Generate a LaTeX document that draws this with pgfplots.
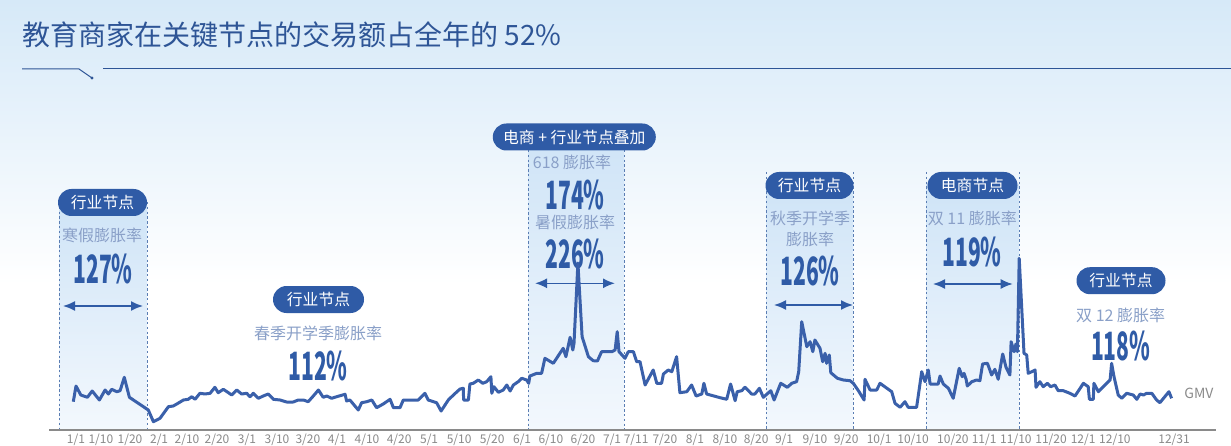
\documentclass[border=0pt]{standalone}
\usepackage{pgfplots}
\pgfplotsset{compat=1.18}
\usepackage{pgfplotstable}
\usepackage{graphicx}
\usepackage{fontspec}
\setmainfont{Noto Sans CJK SC}
\usetikzlibrary{arrows.meta}
\definecolor{linec}{HTML}{3A60AA}
\definecolor{pillc}{HTML}{2F5BA6}
\definecolor{subc}{HTML}{8AA0C8}
\definecolor{titlec}{HTML}{2E5596}
\definecolor{dashc}{HTML}{5A7DB3}
\definecolor{bgtop}{HTML}{D6E9F8}
\definecolor{bandtop}{HTML}{CFE4F7}
\definecolor{bandbot}{HTML}{F3F8FD}
\definecolor{tickc}{HTML}{8A8A8A}
\newcommand{\bn}[1]{\scalebox{0.54}[1]{\fontsize{19.5}{19.5}\selectfont\bfseries #1}}
\pgfplotstableread{
day gmv
1.1 28.3
2.0 44
3.6 35
5.8 32.7
7.4 39
9.8 30
11.7 40
12.8 36
13.9 40.7
15.6 38.3
16.7 39.3
18.1 52.7
19.8 32.7
26.1 20
27.8 8.3
30.0 11.7
32.8 23.3
34.4 24
35.6 26
37.8 30
39.4 30.7
40.6 33.3
41.7 30.7
43.3 36.7
45.0 36
46.7 36.7
48.3 42.7
49.4 37.3
51.1 40.7
52.8 37.3
53.9 35
55.6 40
57.2 36
58.9 36.7
60.0 33.3
61.1 36.7
62.8 31.7
64.4 34
66.1 36
67.8 30.7
70.0 30
72.2 28
74.4 28
76.1 30
77.8 30
79.4 28.3
81.1 34
82.8 40
84.4 32.7
85.6 34
87.2 31.7
88.9 33.3
91.7 35.7
92.2 29
93.3 30
96.1 20
97.2 27.3
98.9 28.3
100.6 30
102.2 22.3
104.4 26
106.7 30.7
107.8 22.3
110.0 22.3
111.1 30
116.1 30
118.3 36.7
119.4 30
122.2 27.3
123.7 19
126.1 30
127.8 35
130.0 41
131.1 41.7
131.2 30
132.8 30
133.3 46
134.4 46.7
136.1 50
137.6 46.7
138.9 48.3
140.3 53.3
140.6 36.7
141.3 43.3
142.8 37.7
144.4 40
145.6 45
146.7 39
147.8 45
149.4 48.3
150.6 51.7
152.2 50
152.9 46.7
153.3 54
155.6 56.7
157.2 56.7
158.3 71.7
161.1 66.7
164.4 81.7
165.3 73.3
166.7 92.7
167.6 80
168.0 86.7
169.3 167
170.7 93.3
172.8 73.3
174.4 69.3
175.8 69
177.2 78.3
180.6 78.3
181.7 80
182.4 98.3
183.0 78.3
185.0 71.7
186.1 78.3
187.8 78.3
188.9 68.3
190.0 68.3
191.7 45
194.4 60
195.6 46.7
197.2 46.7
197.8 56
199.4 60
200.6 58.3
202.2 73.3
203.3 37.3
205.6 38.3
207.2 45
208.7 34
210.6 36
211.3 46.7
212.2 36
216.7 32.3
218.9 30.7
220.2 46
221.7 29.3
222.4 38.3
223.9 39.3
225.0 42.7
227.2 36
228.3 36
229.8 41.7
231.1 32.7
233.6 39.3
234.7 30
236.9 46.7
239.1 42.7
240.6 46.7
242.2 48.3
242.9 58.3
243.9 108.3
245.6 83.3
246.7 88.3
247.6 78.3
248.3 90
250.0 81.7
250.9 68.3
251.7 76.7
252.2 66.7
253.1 75
253.6 57.3
255.8 51.7
257.8 50
260.0 49.3
261.1 46.7
262.8 39.3
264.7 30
265.0 50.7
266.7 40
268.9 40
270.0 46.7
273.9 38.3
275.0 26.7
276.7 22.7
278.3 28.3
279.4 22.7
282.2 22.7
283.9 58.3
285.0 48.3
286.1 60
286.7 46
289.4 46
290.0 54
291.1 46
292.8 41.7
294.4 31.7
296.4 61.7
297.4 53.3
298.0 56.7
298.7 50.7
299.1 44
300.6 48.3
302.2 50
303.3 49.3
304.2 66
305.8 66.7
306.7 59.3
307.2 55
308.3 60.7
309.4 50.7
310.9 76
312.0 62.7
313.3 55
313.7 88.3
314.7 78.3
315.3 86
315.8 78.3
316.4 171.7
318.0 76.7
318.9 75
319.4 56.7
320.6 58.3
321.7 60
322.0 42.7
323.3 48.3
324.4 43.3
325.8 46.7
326.9 43.3
328.3 45
329.4 39.3
331.1 39.3
333.3 36.7
335.0 34
337.8 46.7
339.4 43.3
339.8 30.7
341.1 30.7
341.3 46.7
342.8 38.3
346.7 50
347.2 66.7
348.0 53.3
349.4 35
350.6 31.7
352.2 36.7
354.4 35
355.6 30.7
356.7 36
357.8 35
358.9 36.7
360.6 36.7
362.2 30
363.3 27.3
366.3 38.3
367.2 31.7
}\gmvdata
\begin{document}
\begin{tikzpicture}
\useasboundingbox (0,0) rectangle (615.5pt,222.5pt);
% background and bands (unflipped pixel scope)
\begin{scope}[x=0.5pt,y=0.5pt]
\fill[white] (0,0) rectangle (1231,445);
\shade[top color=bgtop, bottom color=white] (0,160) rectangle (1231,445);
\shade[top color=bandtop, bottom color=bandbot] (59,15) rectangle (147,243);
\shade[top color=bandtop, bottom color=bandbot] (528,15) rectangle (624,308);
\shade[top color=bandtop, bottom color=bandbot] (766,15) rectangle (853,260);
\shade[top color=bandtop, bottom color=bandbot] (926,15) rectangle (1019,260);
\end{scope}
% annotations (flipped pixel scope: y downward)
\begin{scope}[shift={(0pt,222.5pt)},x=0.5pt,y=-0.5pt]
\node[anchor=west, text=titlec, font=\fontsize{14}{16}\selectfont, inner sep=0pt] at (22,35) {教育商家在关键节点的交易额占全年的 52\%};
\draw[titlec, line width=0.5pt] (22,69) -- (79,69) -- (92,78);
\fill[titlec] (92,78) circle (1.6);
\draw[titlec, line width=0.5pt] (103,69) -- (1231,69);
% dashed band edges
\tikzset{edge/.style={dashc, line width=0.45pt, dash pattern=on 1.2pt off 1.2pt}}
\draw[edge] (59,202) -- (59,430) (147,202) -- (147,430);
\draw[edge] (528,150) -- (528,430) (624,150) -- (624,430);
\draw[edge] (766,172) -- (766,430) (853,172) -- (853,430);
\draw[edge] (926,172) -- (926,430) (1019,172) -- (1019,430);
% pills
\tikzset{pill/.style={fill=pillc, text=white, rounded corners=6.75pt, minimum height=13.5pt, inner sep=0pt, font=\fontsize{7.9}{9}\selectfont}}
\node[pill, minimum width=44.5pt] at (102.5,202.5) {行业节点};
\node[pill, minimum width=81.5pt] at (574.3,137) {电商 + 行业节点叠加};
\node[pill, minimum width=44pt] at (809.5,185.5) {行业节点};
\node[pill, minimum width=45pt] at (972.5,185.5) {电商节点};
\node[pill, minimum width=45.5pt] at (318.5,299.5) {行业节点};
\node[pill, minimum width=44.5pt] at (1121,280.7) {行业节点};
% sub labels
\tikzset{sub/.style={text=subc, inner sep=0pt, font=\fontsize{8}{9}\selectfont}}
\tikzset{num/.style={text=pillc, inner sep=0pt}}
\node[sub] at (102,235) {寒假膨胀率};
\node[num] at (103,269) {\bn{127\%}};
\node[sub] at (572,162) {618 膨胀率};
\node[num] at (575,194.5) {\bn{174\%}};
\node[sub] at (575,222) {暑假膨胀率};
\node[num] at (575,254) {\bn{226\%}};
\node[sub] at (810,218.3) {秋季开学季};
\node[sub] at (810,239.3) {膨胀率};
\node[num] at (810,271) {\bn{126\%}};
\node[sub] at (972.3,218.3) {双 11 膨胀率};
\node[num] at (972,251.7) {\bn{119\%}};
\node[sub] at (318,333) {春季开学季膨胀率};
\node[num] at (318,366) {\bn{112\%}};
\node[sub] at (1120.7,315) {双 12 膨胀率};
\node[num] at (1120.7,346) {\bn{118\%}};
\node[anchor=west, text=tickc, inner sep=0pt, font=\fontsize{7}{8}\selectfont] at (1184,393) {GMV};
% arrows
\tikzset{dbl/.style={pillc, line width=0.8pt, {Latex[length=6pt,width=5pt]}-{Latex[length=6pt,width=5pt]}}}
\draw[dbl] (63,306) -- (143,306);
\draw[dbl] (535,283.3) -- (615,283.3);
\draw[dbl] (774,305) -- (853,305);
\draw[dbl] (933,284) -- (1012.7,284);
\end{scope}
\begin{axis}[
  at={(24.5pt,7.5pt)}, anchor=south west,
  scale only axis, width=583.5pt, height=215pt,
  xmin=-7, xmax=382, ymin=0, ymax=430,
  axis x line=bottom, axis y line=none,
  axis line style={draw=tickc, line width=0.6pt, -},
  x axis line style={-},
  major tick length=0pt,
  xtick={2.0,10.3,20.0,29.7,39.0,49.0,59.0,69.0,79.3,89.0,99.0,109.7,119.7,129.7,140.7,150.7,160.3,171.0,180.7,188.7,198.3,208.3,218.3,228.7,238.0,248.3,258.7,269.7,281.0,294.3,304.7,315.3,327.0,337.7,348.3,368.0},
  xticklabels={1/1,1/10,1/20,2/1,2/10,2/20,3/1,3/10,3/20,4/1,4/10,4/20,5/1,5/10,5/20,6/1,6/10,6/20,7/1,7/11,7/20,8/1,8/10,8/20,9/1,9/10,9/20,10/1,10/10,10/20,11/1,11/10,11/20,12/1,12/10,12/31},
  xticklabel style={font=\fontsize{6}{7}\selectfont, text=tickc, inner sep=0pt, anchor=north, yshift=-2pt},
  clip=false,
]
\addplot[color=linec, line width=1.5pt, line join=round, no marks] table[x=day, y=gmv] {\gmvdata};
\end{axis}
\end{tikzpicture}
\end{document}
